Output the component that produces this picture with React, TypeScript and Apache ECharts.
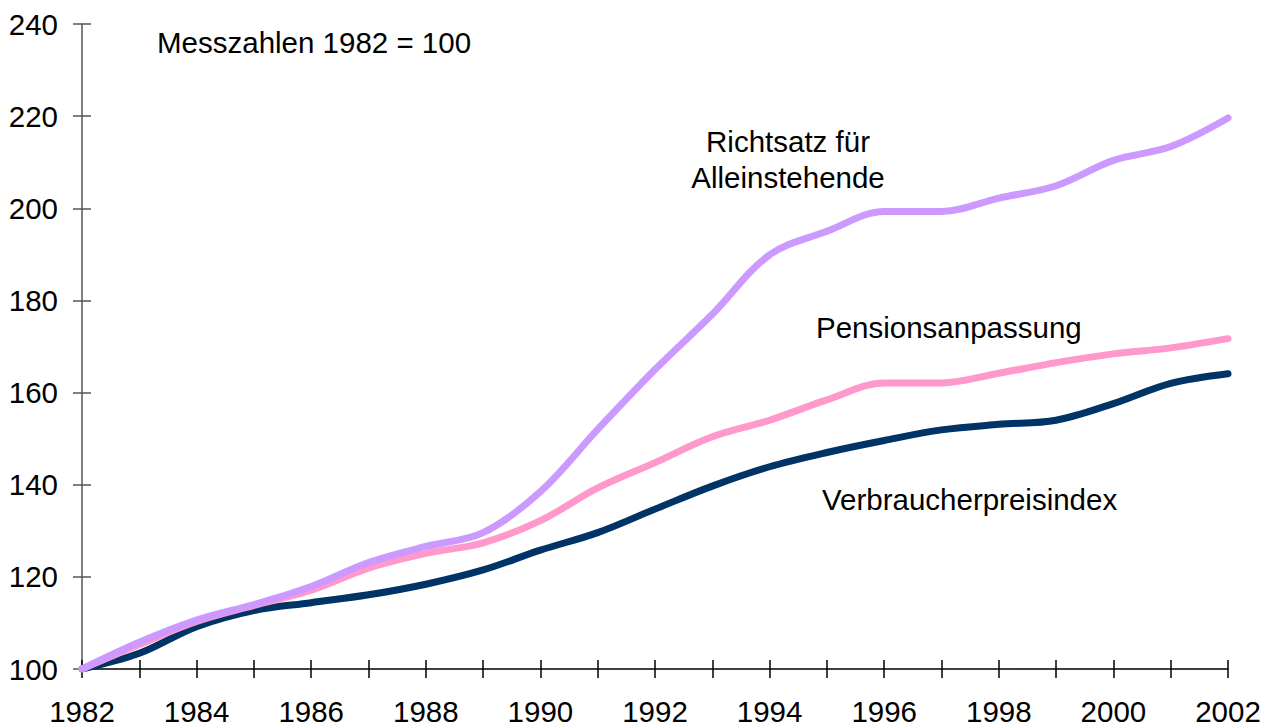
import React, { useEffect, useRef } from "react";
import * as echarts from "echarts";

const years = [
  "1982", "1983", "1984", "1985", "1986", "1987", "1988", "1989", "1990", "1991",
  "1992", "1993", "1994", "1995", "1996", "1997", "1998", "1999", "2000", "2001", "2002",
];
const richtsatz = [100, 105.8, 110.6, 114, 117.9, 123.1, 126.6, 129.6, 138.5, 152, 165, 177, 189.9, 195, 199.3, 199.3, 202.2, 204.9, 210.4, 213.4, 219.6];
const pension = [100, 105.3, 110.3, 113.8, 117.1, 121.9, 125.1, 127.4, 132.2, 139.3, 144.8, 150.4, 154, 158.4, 162.1, 162.1, 164.2, 166.5, 168.4, 169.7, 171.7];
const vpi = [100, 103.4, 109.2, 112.7, 114.4, 116.1, 118.4, 121.5, 125.8, 129.6, 134.7, 139.7, 143.9, 147, 149.6, 151.9, 153.1, 154, 157.6, 162, 164.1];
const yTicks = { min: 100, max: 240, interval: 20 };

const FONT = "Liberation Sans, Arial, sans-serif";
const FS = 29.5;

export default function App() {
  const ref = useRef<HTMLDivElement>(null);
  useEffect(() => {
    if (!ref.current) return;
    const chart = echarts.init(ref.current, null, { renderer: "svg" });
    const labelStyle = { color: "#000", fontSize: FS, fontFamily: FONT };
    const lineSeries = (name: string, data: number[], color: string) => ({
      name,
      type: "line",
      data,
      smooth: 0.35,
      symbol: "none",
      lineStyle: { color, width: 7, cap: "round", join: "round" },
      z: 3,
    });
    chart.setOption({
      animation: false,
      backgroundColor: "#fff",
      grid: { left: 82, right: 43, top: 24, bottom: 56, containLabel: false },
      xAxis: [
        {
          type: "category",
          data: years,
          boundaryGap: false,
          axisLine: { lineStyle: { color: "#000", width: 1.5 } },
          axisTick: { show: true, length: 9, interval: 0, lineStyle: { color: "#000", width: 1.5 } },
          axisLabel: { ...labelStyle, interval: 1, margin: 27 },
          splitLine: { show: false },
        },
        {
          type: "category",
          data: years,
          boundaryGap: false,
          position: "bottom",
          axisLine: { show: false },
          axisTick: { show: true, inside: true, length: 9, interval: 0, lineStyle: { color: "#000", width: 1.5 } },
          axisLabel: { show: false },
          splitLine: { show: false },
        },
      ],
      yAxis: [
        {
          type: "value",
          min: yTicks.min,
          max: yTicks.max,
          interval: yTicks.interval,
          axisLine: { show: true, lineStyle: { color: "#555", width: 1.5 } },
          axisTick: { show: true, length: 9, lineStyle: { color: "#555", width: 1.5 } },
          axisLabel: { ...labelStyle, margin: 24 },
          splitLine: { show: false },
        },
        {
          type: "value",
          min: yTicks.min,
          max: yTicks.max,
          interval: yTicks.interval,
          position: "left",
          axisLine: { show: false },
          axisTick: { show: true, inside: true, length: 9, lineStyle: { color: "#555", width: 1.5 } },
          axisLabel: { show: false },
          splitLine: { show: false },
        },
      ],
      series: [
        lineSeries("Verbraucherpreisindex", vpi, "#003366"),
        lineSeries("Pensionsanpassung", pension, "#FF99CC"),
        lineSeries("Richtsatz für Alleinstehende", richtsatz, "#CC99FF"),
      ],
      graphic: [
        { type: "text", left: 157, top: 27, style: { text: "Messzahlen 1982 = 100", fill: "#000", font: `${FS}px ${FONT}` } },
        { type: "text", x: 788, y: 123, style: { text: "Richtsatz für\nAlleinstehende", fill: "#000", font: `${FS}px ${FONT}`, align: "center", lineHeight: 36 } },
        { type: "text", left: 816, top: 312, style: { text: "Pensionsanpassung", fill: "#000", font: `${FS}px ${FONT}` } },
        { type: "text", left: 822, top: 484, style: { text: "Verbraucherpreisindex", fill: "#000", font: `${FS}px ${FONT}` } },
      ],
    });
    return () => chart.dispose();
  }, []);
  return <div ref={ref} style={{ position: "absolute", left: 0, top: 0, width: 1271, height: 726 }} />;
}
